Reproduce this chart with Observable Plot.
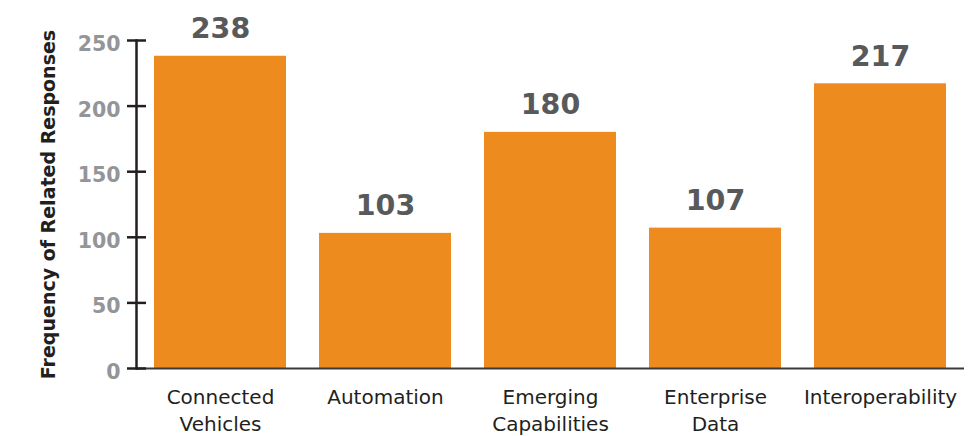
<!DOCTYPE html>
<html>
<head>
<meta charset="utf-8">
<script src="https://cdn.jsdelivr.net/npm/d3@7"></script>
<script src="https://cdn.jsdelivr.net/npm/@observablehq/plot@0.6"></script>
<style>
  html, body { margin: 0; padding: 0; background: #fff; }
</style>
</head>
<body>
<div id="chart"></div>
<script>
const categories = ["Connected\nVehicles", "Automation", "Emerging\nCapabilities", "Enterprise\nData", "Interoperability"];
const values = [238, 103, 180, 107, 217];
const yTicks = [0, 50, 100, 150, 200, 250];
const yLabel = "Frequency of Related Responses";

const data = categories.map((c, i) => ({category: c, value: values[i]}));

const chart = Plot.plot({
  width: 970,
  height: 436,
  marginLeft: 136,
  marginRight: 6,
  marginTop: 40,
  marginBottom: 68,
  style: {fontFamily: "DejaVu Sans", background: "white"},
  x: {domain: categories, paddingInner: 0.2, paddingOuter: 0.1},
  y: {domain: [0, 250]},
  marks: [
    Plot.barY(data, {x: "category", y: "value", fill: "#EE8B1F"}),
    Plot.ruleY([0], {stroke: "#3a3a3a", strokeWidth: 2}),
    Plot.frame({anchor: "left", stroke: "#231f20", strokeWidth: 2.5}),
    Plot.axisY(yTicks, {tickSize: 19, dx: 10, tickFormat: () => "", color: "#231f20", strokeWidth: 2.5, label: null}),
    Plot.axisY(yTicks, {tickSize: 0, tickPadding: 16, dy: 4, fontSize: 20.5, fontWeight: "bold", color: "#939598", label: null}),
    Plot.axisX({tickSize: 0, tickPadding: 16, fontSize: 20, lineHeight: 1.35, color: "#231f20", label: null}),
    Plot.text(data, {x: "category", y: "value", text: d => String(d.value), dy: -18, lineAnchor: "bottom", fontSize: 28.5, fontWeight: "bold", fill: "#58595b"}),
    Plot.text([yLabel], {frameAnchor: "left", dx: -88, rotate: -90, textAnchor: "middle", lineAnchor: "middle", text: d => d, fontSize: 19, fontWeight: "bold", fill: "#231f20"})
  ]
});
document.getElementById("chart").appendChild(chart);
</script>
</body>
</html>
